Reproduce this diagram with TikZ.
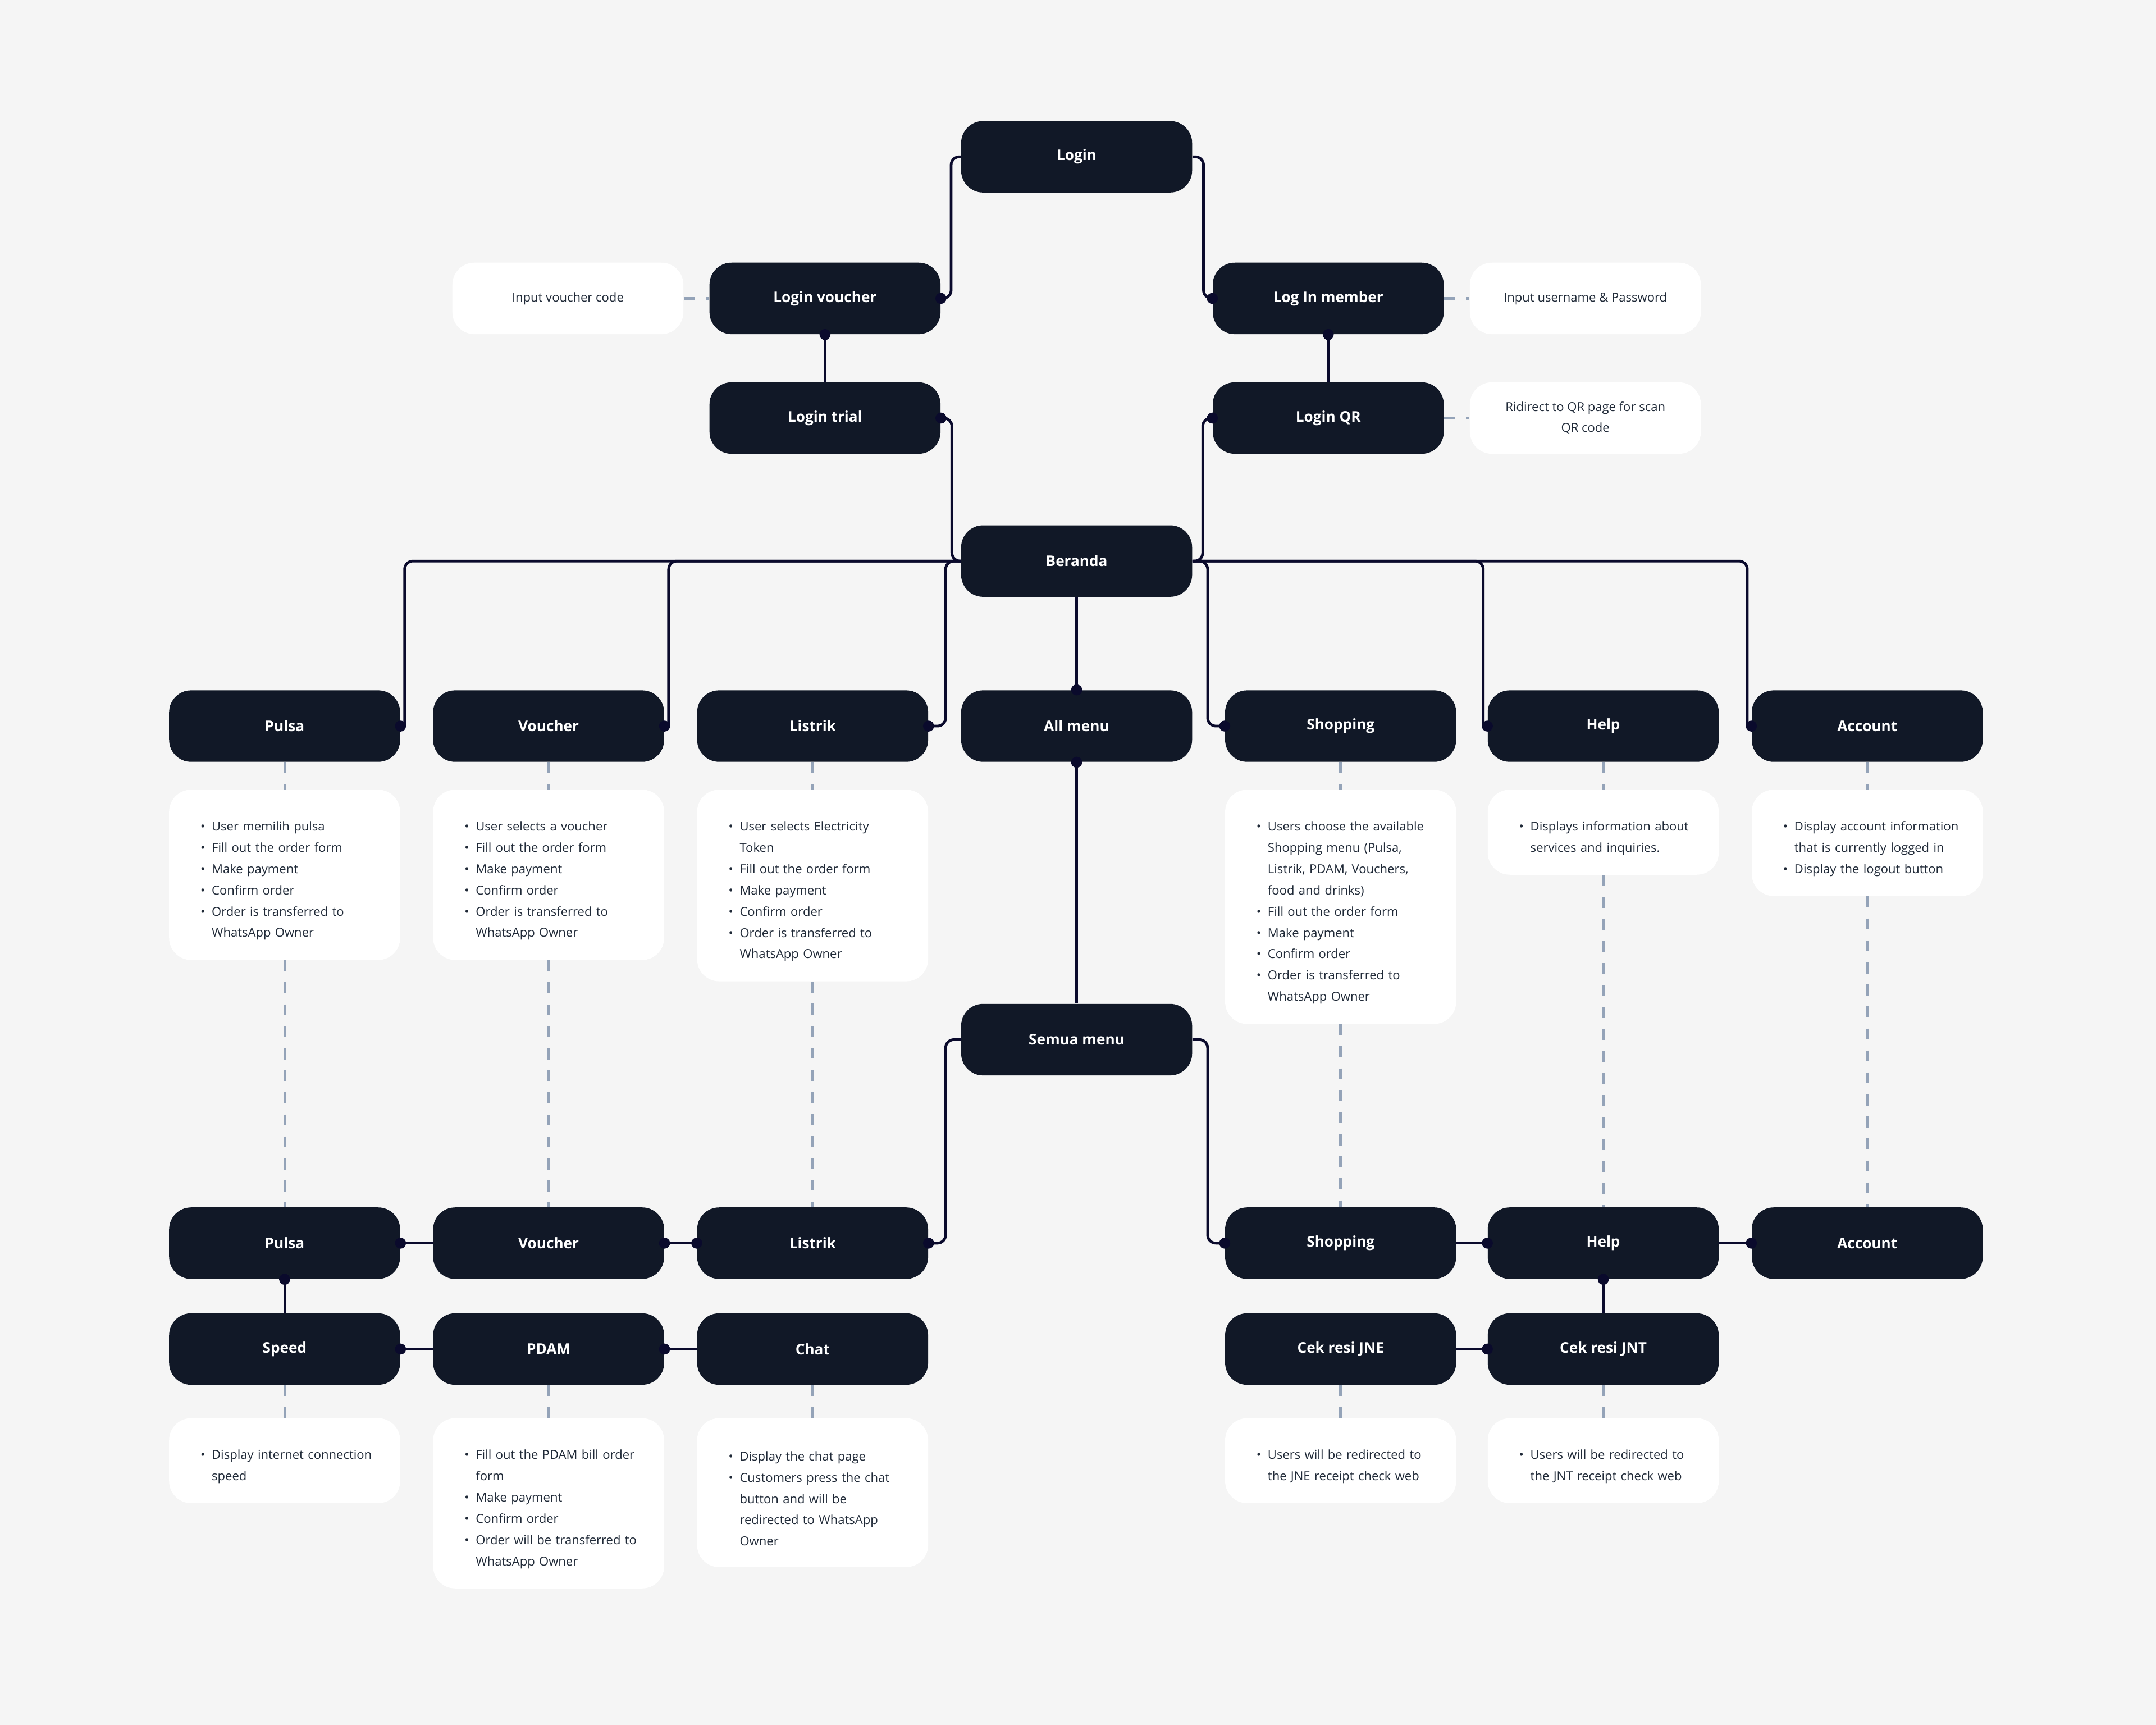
\documentclass[tikz,border=0pt]{standalone}
\usepackage{fontspec}
\setmainfont{Open Sans}
\usepackage{enumitem}
\usetikzlibrary{calc}
\definecolor{pagebg}{HTML}{F5F5F5}
\definecolor{boxdark}{HTML}{111827}
\definecolor{wire}{HTML}{0A0A2C}
\definecolor{dashgrey}{HTML}{94A3B8}
\definecolor{inktext}{HTML}{1F2937}
\newlist{steps}{itemize}{1}
\setlist[steps]{label=\textbullet, nosep, leftmargin=0.575cm, labelsep=0.12cm}
\tikzset{
	darkbox/.style={fill=boxdark, rounded corners=0.4cm, minimum width=4.2cm, minimum height=1.3cm, inner sep=0pt, text=white, font=\fontsize{7.6}{9}\selectfont\bfseries},
	notebox/.style={fill=white, rounded corners=0.4cm, minimum width=4.2cm, minimum height=1.3cm, inner sep=0pt, text=inktext, align=center, font=\fontsize{6.4}{11}\selectfont},
	descbox/.style={fill=white, rounded corners=0.4cm, anchor=north, minimum width=4.2cm, minimum height={#1*0.3875cm+0.77cm}, text width=3.8cm, inner xsep=0.2cm, inner ysep=0.1cm, align=left, text=inktext, font=\fontsize{6.4}{11}\selectfont},
	wireline/.style={draw=wire, line width=1.4pt, rounded corners=0.15cm},
	dashline/.style={draw=dashgrey, line width=1.4pt, dash pattern=on 0.2cm off 0.2cm},
}

\begin{document}
\begin{tikzpicture}
			%%%%% START %%%%%
			
			\fill[pagebg] (0, 0) rectangle (39.2, -31.36);
			\useasboundingbox (0, 0) rectangle (39.2, -31.36);
			
			% login part
			\node[darkbox] (login) at (19.575, -2.85) {Login};
			\node[darkbox] (lvoucher) at (15.0, -5.425) {Login voucher};
			\node[darkbox] (lmember) at (24.15, -5.425) {Log In member};
			\node[darkbox] (ltrial) at (15.0, -7.6) {Login trial};
			\node[darkbox] (lqr) at (24.15, -7.6) {Login QR};
			\node[notebox] (ivoucher) at (10.325, -5.425) {Input voucher code};
			\node[notebox] (iuser) at (28.825, -5.425) {Input username \& Password};
			\node[notebox] (iqr) at (28.825, -7.6) {Ridirect to QR page for scan\\QR code};
			
			\node[darkbox] (beranda) at (19.575, -10.2) {Beranda};
			
			% first menu row
			\node[darkbox] (pulsa) at (5.175, -13.2) {Pulsa};
			\node[darkbox] (voucher) at (9.975, -13.2) {Voucher};
			\node[darkbox] (listrik) at (14.775, -13.2) {Listrik};
			\node[darkbox] (allmenu) at (19.575, -13.2) {All menu};
			\node[darkbox] (shopping) at (24.375, -13.2) {Shopping};
			\node[darkbox] (help) at (29.15, -13.2) {Help};
			\node[darkbox] (account) at (33.95, -13.2) {Account};
			
			\node[descbox=6] (pulsanote) at (5.175, -14.35) {\begin{steps}
				\item User memilih pulsa
				\item Fill out the order form
				\item Make payment
				\item Confirm order
				\item Order is transferred to\\WhatsApp Owner
			\end{steps}};
			\node[descbox=6] (vouchernote) at (9.975, -14.35) {\begin{steps}
				\item User selects a voucher
				\item Fill out the order form
				\item Make payment
				\item Confirm order
				\item Order is transferred to\\WhatsApp Owner
			\end{steps}};
			\node[descbox=7] (listriknote) at (14.775, -14.35) {\begin{steps}
				\item User selects Electricity\\Token
				\item Fill out the order form
				\item Make payment
				\item Confirm order
				\item Order is transferred to\\WhatsApp Owner
			\end{steps}};
			\node[descbox=9] (shoppingnote) at (24.375, -14.35) {\begin{steps}
				\item Users choose the available\\Shopping menu (Pulsa,\\Listrik, PDAM, Vouchers,\\food and drinks)
				\item Fill out the order form
				\item Make payment
				\item Confirm order
				\item Order is transferred to\\WhatsApp Owner
			\end{steps}};
			\node[descbox=2] (helpnote) at (29.15, -14.35) {\begin{steps}
				\item Displays information about\\services and inquiries.
			\end{steps}};
			\node[descbox=3] (accountnote) at (33.95, -14.35) {\begin{steps}
				\item Display account information\\that is currently logged in
				\item Display the logout button
			\end{steps}};
			
			\node[darkbox] (semua) at (19.575, -18.9) {Semua menu};
			
			% second menu rows
			\node[darkbox] (pulsab) at (5.175, -22.6) {Pulsa};
			\node[darkbox] (voucherb) at (9.975, -22.6) {Voucher};
			\node[darkbox] (listrikb) at (14.775, -22.6) {Listrik};
			\node[darkbox] (shoppingb) at (24.375, -22.6) {Shopping};
			\node[darkbox] (helpb) at (29.15, -22.6) {Help};
			\node[darkbox] (accountb) at (33.95, -22.6) {Account};
			
			\node[darkbox] (speed) at (5.175, -24.525) {Speed};
			\node[darkbox] (pdam) at (9.975, -24.525) {PDAM};
			\node[darkbox] (chat) at (14.775, -24.525) {Chat};
			\node[darkbox] (jne) at (24.375, -24.525) {Cek resi JNE};
			\node[darkbox] (jnt) at (29.15, -24.525) {Cek resi JNT};
			
			\node[descbox=2] (speednote) at (5.175, -25.775) {\begin{steps}
				\item Display internet connection\\speed
			\end{steps}};
			\node[descbox=6] (pdamnote) at (9.975, -25.775) {\begin{steps}
				\item Fill out the PDAM bill order\\form
				\item Make payment
				\item Confirm order
				\item Order will be transferred to\\WhatsApp Owner
			\end{steps}};
			\node[descbox=5] (chatnote) at (14.775, -25.775) {\begin{steps}
				\item Display the chat page
				\item Customers press the chat\\button and will be\\redirected to WhatsApp\\Owner
			\end{steps}};
			\node[descbox=2] (jnenote) at (24.375, -25.775) {\begin{steps}
				\item Users will be redirected to\\the JNE receipt check web
			\end{steps}};
			\node[descbox=2] (jntnote) at (29.15, -25.775) {\begin{steps}
				\item Users will be redirected to\\the JNT receipt check web
			\end{steps}};
			
			% dashed links
			\draw[dashline] (ivoucher.east) -- (lvoucher.west);
			\draw[dashline] (lmember.east) -- (iuser.west);
			\draw[dashline] (lqr.east) -- (iqr.west);
			
			\draw[dashline] (pulsa.south) -- (pulsanote.north);
			\draw[dashline] (pulsanote.south) -- (pulsab.north);
			\draw[dashline] (voucher.south) -- (vouchernote.north);
			\draw[dashline] (vouchernote.south) -- (voucherb.north);
			\draw[dashline] (listrik.south) -- (listriknote.north);
			\draw[dashline] (listriknote.south) -- (listrikb.north);
			\draw[dashline] (shopping.south) -- (shoppingnote.north);
			\draw[dashline] (shoppingnote.south) -- (shoppingb.north);
			\draw[dashline] (help.south) -- (helpnote.north);
			\draw[dashline] (helpnote.south) -- (helpb.north);
			\draw[dashline] (account.south) -- (accountnote.north);
			\draw[dashline] (accountnote.south) -- (accountb.north);
			
			\draw[dashline] (speed.south) -- (speednote.north);
			\draw[dashline] (pdam.south) -- (pdamnote.north);
			\draw[dashline] (chat.south) -- (chatnote.north);
			\draw[dashline] (jne.south) -- (jnenote.north);
			\draw[dashline] (jnt.south) -- (jntnote.north);
			
			% solid links
			\draw[wireline] (login.west) -- ++(-0.175, 0) |- (lvoucher.east);
			\draw[wireline] (login.east) -- ++(0.2, 0) |- (lmember.west);
			\draw[wireline] (lvoucher.south) -- (ltrial.north);
			\draw[wireline] (lmember.south) -- (lqr.north);
			\draw[wireline] (ltrial.east) -- ++(0.2, 0) |- (beranda.west);
			\draw[wireline] (lqr.west) -- ++(-0.175, 0) |- (beranda.east);
			
			\draw[wireline] (beranda.west) -| ($(pulsa.east)+(0.075, 0)$);
			\draw[wireline] (beranda.west) -| ($(voucher.east)+(0.075, 0)$);
			\draw[wireline] (beranda.west) -- ++(-0.275, 0) |- (listrik.east);
			\draw[wireline] (beranda.south) -- (allmenu.north);
			\draw[wireline] (beranda.east) -- ++(0.275, 0) |- (shopping.west);
			\draw[wireline] (beranda.east) -| ($(help.west)+(-0.075, 0)$);
			\draw[wireline] (beranda.east) -| ($(account.west)+(-0.075, 0)$);
			
			\draw[wireline] (allmenu.south) -- (semua.north);
			\draw[wireline] (semua.west) -- ++(-0.275, 0) |- (listrikb.east);
			\draw[wireline] (semua.east) -- ++(0.275, 0) |- (shoppingb.west);
			
			\draw[wireline] (pulsab.east) -- (voucherb.west);
			\draw[wireline] (voucherb.east) -- (listrikb.west);
			\draw[wireline] (pulsab.south) -- (speed.north);
			\draw[wireline] (speed.east) -- (pdam.west);
			\draw[wireline] (pdam.east) -- (chat.west);
			\draw[wireline] (shoppingb.east) -- (helpb.west);
			\draw[wireline] (helpb.east) -- (accountb.west);
			\draw[wireline] (helpb.south) -- (jnt.north);
			\draw[wireline] (jne.east) -- (jnt.west);
			
			% end dots
			\fill[wire] (lvoucher.east) circle (0.1);
			\fill[wire] (lmember.west) circle (0.1);
			\fill[wire] (lvoucher.south) circle (0.1);
			\fill[wire] (lmember.south) circle (0.1);
			\fill[wire] (ltrial.east) circle (0.1);
			\fill[wire] (lqr.west) circle (0.1);
			\fill[wire] (pulsa.east) circle (0.1);
			\fill[wire] (voucher.east) circle (0.1);
			\fill[wire] (listrik.east) circle (0.1);
			\fill[wire] (allmenu.north) circle (0.1);
			\fill[wire] (shopping.west) circle (0.1);
			\fill[wire] (help.west) circle (0.1);
			\fill[wire] (account.west) circle (0.1);
			\fill[wire] (allmenu.south) circle (0.1);
			\fill[wire] (listrikb.east) circle (0.1);
			\fill[wire] (shoppingb.west) circle (0.1);
			\fill[wire] (pulsab.east) circle (0.1);
			\fill[wire] (voucherb.east) circle (0.1);
			\fill[wire] (listrikb.west) circle (0.1);
			\fill[wire] (pulsab.south) circle (0.1);
			\fill[wire] (speed.east) circle (0.1);
			\fill[wire] (pdam.east) circle (0.1);
			\fill[wire] (helpb.west) circle (0.1);
			\fill[wire] (accountb.west) circle (0.1);
			\fill[wire] (helpb.south) circle (0.1);
			\fill[wire] (jnt.west) circle (0.1);
			
			%%%%% END %%%%%
\end{tikzpicture}
\end{document}
